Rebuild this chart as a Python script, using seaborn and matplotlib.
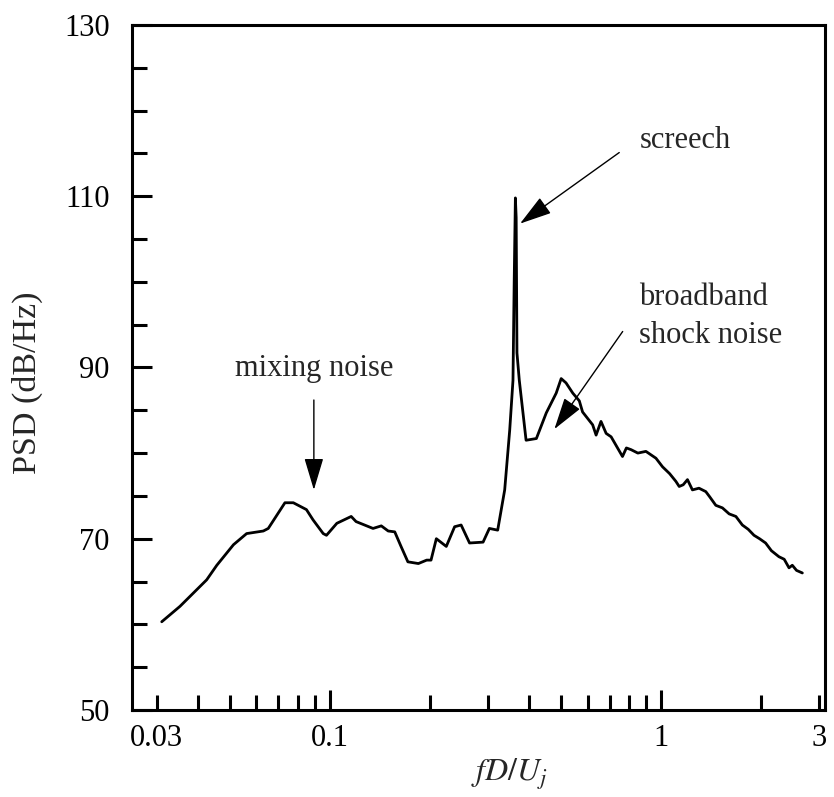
import matplotlib
matplotlib.use("Agg")
import matplotlib.pyplot as plt
import matplotlib.ticker as mticker
import seaborn as sns
import pandas as pd

# Spectrum of the jet near-field pressure: normalised frequency vs PSD
freq = [0.0311, 0.0353, 0.0425, 0.0456, 0.0512, 0.0561, 0.0630, 0.0652,
        0.0732, 0.0776, 0.0850, 0.0890, 0.0955, 0.0977, 0.1050, 0.1160,
        0.1200, 0.1350, 0.1430, 0.1500, 0.1570, 0.1640, 0.1720, 0.1850,
        0.1960, 0.2020, 0.2096, 0.2246, 0.2380, 0.2490, 0.2640, 0.2900,
        0.3030, 0.3210, 0.3370, 0.3490, 0.3570, 0.3600, 0.3630, 0.3650,
        0.3670, 0.3730, 0.3910, 0.4200, 0.4500, 0.4820, 0.4990, 0.5160,
        0.5410, 0.5660, 0.5790, 0.6210, 0.6360, 0.6580, 0.6820, 0.7060,
        0.7640, 0.7850, 0.8110, 0.8500, 0.8990, 0.9640, 1.0090, 1.0600,
        1.1070, 1.1330, 1.1650, 1.2000, 1.2420, 1.3000, 1.3630, 1.4000,
        1.4610, 1.5300, 1.6030, 1.6800, 1.7570, 1.8300, 1.9050, 1.9800,
        2.0650, 2.1500, 2.2650, 2.3500, 2.4300, 2.4860, 2.5600, 2.6660]
psd = [60.3, 62.1, 65.2, 66.9, 69.3, 70.6, 70.9, 71.2,
       74.2, 74.2, 73.4, 72.2, 70.6, 70.4, 71.8, 72.6,
       72.0, 71.2, 71.5, 70.9, 70.8, 69.1, 67.3, 67.1,
       67.5, 67.5, 70.0, 69.1, 71.4, 71.6, 69.5, 69.6,
       71.2, 71.0, 75.7, 82.7, 88.5, 100.0, 109.8, 107.5,
       91.7, 88.5, 81.5, 81.7, 84.7, 87.0, 88.7, 88.2,
       87.0, 86.1, 84.8, 83.3, 82.1, 83.7, 82.3, 81.9,
       79.6, 80.6, 80.4, 80.0, 80.2, 79.4, 78.4, 77.6,
       76.7, 76.1, 76.3, 76.9, 75.7, 75.9, 75.5, 74.9,
       73.9, 73.6, 72.9, 72.6, 71.6, 71.1, 70.4, 70.0,
       69.5, 68.6, 67.9, 67.6, 66.6, 66.9, 66.3, 66.0]

# Tick values and labels
x_major = [0.1, 1.0]
x_minor = [0.03, 0.04, 0.05, 0.06, 0.07, 0.08, 0.09,
           0.2, 0.3, 0.4, 0.5, 0.6, 0.7, 0.8, 0.9, 2.0, 3.0]
x_minor_labels = {0.03: "0.03", 3.0: "3"}
y_major = [50, 70, 90, 110, 130]

# Annotation labels
mix_label = "mixing noise"
screech_label = "screech"
bbsn_label = ["broadband", "shock noise"]

df = pd.DataFrame({"f": freq, "psd": psd})

sns.set_style("ticks")
plt.rcParams["font.family"] = ["Liberation Serif", "DejaVu Serif"]
plt.rcParams["mathtext.fontset"] = "stix"

fig = plt.figure(figsize=(8.34, 7.97), dpi=100)
ax = fig.add_axes([0.1583, 0.1092, 0.8309, 0.8595])

sns.lineplot(data=df, x="f", y="psd", ax=ax, color="black",
             linewidth=2.0, estimator=None, sort=False)

ax.set_xscale("log")
ax.set_xlim(0.0253, 3.12)
ax.set_ylim(50, 130)

ax.xaxis.set_major_locator(mticker.FixedLocator(x_major))
ax.xaxis.set_major_formatter(mticker.FixedFormatter(["0.1", "1"]))
ax.xaxis.set_minor_locator(mticker.FixedLocator(x_minor))
ax.xaxis.set_minor_formatter(mticker.FuncFormatter(
    lambda v, pos: next((s for k, s in x_minor_labels.items()
                         if abs(v - k) < 1e-9), "")))
ax.yaxis.set_major_locator(mticker.FixedLocator(y_major))
ax.yaxis.set_minor_locator(mticker.MultipleLocator(5))

ax.tick_params(which="both", direction="in", top=False, right=False,
               width=2.2, colors="black", labelsize=22)
ax.tick_params(which="major", length=14.5)
ax.tick_params(which="minor", length=10.5)
ax.tick_params(axis="x", which="both", pad=10)
ax.tick_params(axis="y", which="both", pad=16)

for side in ["left", "right", "top", "bottom"]:
    ax.spines[side].set_visible(True)
    ax.spines[side].set_linewidth(2.2)
    ax.spines[side].set_color("black")

ax.set_xlabel(r"$fD/U_j$", fontsize=23)
ax.set_ylabel("PSD (dB/Hz)", fontsize=24.5)
ax.xaxis.set_label_coords(0.545, -0.068)
ax.yaxis.set_label_coords(-0.128, 0.477)

arrow = dict(arrowstyle="-|>,head_length=1.0,head_width=0.3",
             color="black", lw=1.0, shrinkA=0, shrinkB=0, mutation_scale=20)

# mixing noise
ax.annotate("", xy=(0.0895, 75.7), xytext=(0.0895, 86.2), arrowprops=arrow)
ax.text(0.0895, 89.0, mix_label, ha="center", va="baseline", fontsize=22)

# screech
ax.annotate("", xy=(0.375, 106.8), xytext=(0.747, 115.1), arrowprops=arrow)
ax.text(0.859, 115.6, screech_label, ha="left", va="baseline", fontsize=22)

# broadband shock noise
ax.annotate("", xy=(0.476, 82.8), xytext=(0.765, 94.2), arrowprops=arrow)
ax.text(0.859, 97.3, bbsn_label[0], ha="left", va="baseline", fontsize=22)
ax.text(0.859, 92.9, bbsn_label[1], ha="left", va="baseline", fontsize=22)

fig.savefig("out.png", dpi=100, facecolor="white")
